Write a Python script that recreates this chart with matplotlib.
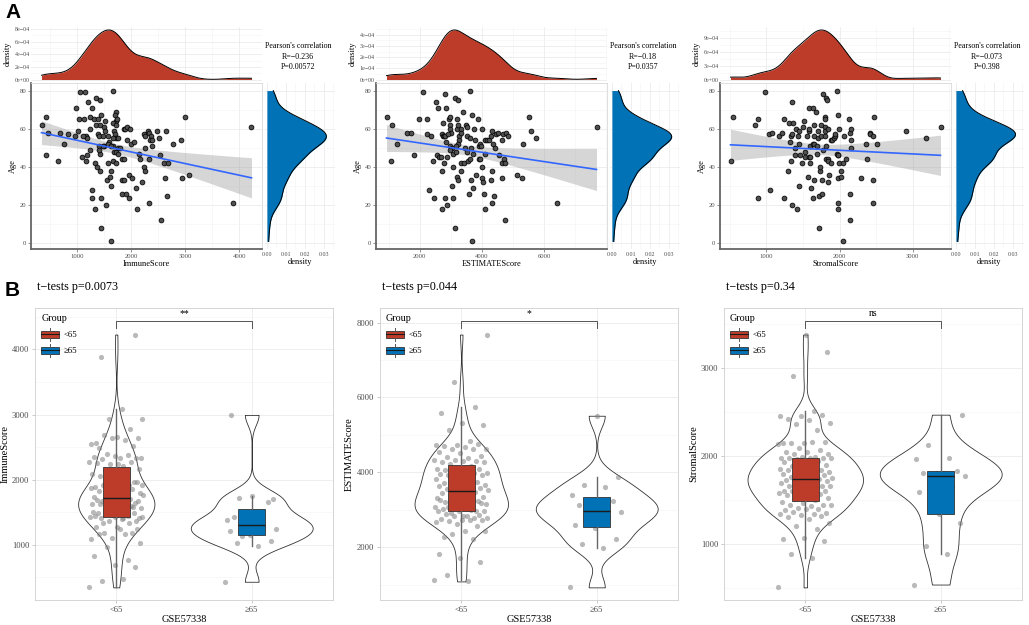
import numpy as np
import matplotlib
matplotlib.use("Agg")
import matplotlib.pyplot as plt
from matplotlib.ticker import MultipleLocator, FixedLocator, FuncFormatter, NullFormatter
from matplotlib.legend_handler import HandlerBase
from matplotlib.patches import Rectangle, Patch
from matplotlib.lines import Line2D

plt.rcParams['font.family'] = ['Liberation Serif', 'DejaVu Serif']

RED = '#BC3C29'
BLUE = '#0072B5'
W, H = 1029, 625

# ---- data (score, age per sample) ----
immune_score = [346, 432, 475, 438, 654, 691, 827, 765, 975, 963,
                1031, 1025, 1056, 1154, 1204, 1278, 1136, 1235, 1352, 1426,
                1660, 1309, 1247, 1173, 1185, 1111, 1093, 1167, 1185, 1247,
                1272, 1272, 1340, 1383, 1358, 1451, 1420, 1395, 1414, 1488,
                1525, 1506, 1519, 1580, 1407, 1506, 1488, 1593, 1568, 1420,
                1407, 1340, 1370, 1432, 1444, 1438, 1537, 1562, 1605, 1623,
                1574, 1660, 1623, 1630, 1716, 1698, 1716, 1673, 1728, 1747,
                1685, 1698, 1728, 1759, 1667, 1673, 1636, 1691, 1728, 1765,
                1759, 1802, 1722, 1833, 1864, 1827, 1877, 1840, 1914, 1969,
                1864, 1889, 1920, 1988, 1920, 2006, 2062, 1957, 2019, 2086,
                2117, 2142, 2167, 2235, 2259, 2265, 2247, 2265, 2210, 2315,
                2340, 2364, 2352, 2383, 2395, 2327, 2327, 2481, 2519, 2642,
                2543, 2605, 2691, 2636, 2660, 2562, 2784, 2926, 2994, 2938,
                3080, 3889, 4228]
immune_age = [62, 66, 58, 46, 43, 58, 57, 52, 71, 56,
              65, 59, 79, 79, 74, 71, 65, 66, 76, 75,
              80, 65, 60, 56, 55, 56, 45, 43, 46, 49,
              28, 24, 18, 65, 62, 67, 62, 57, 56, 56,
              64, 61, 59, 56, 51, 51, 51, 53, 52, 47,
              49, 42, 40, 38, 24, 8, 20, 33, 35, 38,
              42, 43, 30, 1, 69, 67, 64, 63, 62, 65,
              59, 57, 55, 55, 55, 51, 51, 48, 48, 47,
              50, 50, 42, 44, 44, 33, 33, 26, 26, 24,
              60, 60, 61, 60, 54, 52, 53, 36, 34, 29,
              18, 47, 44, 57, 56, 50, 40, 38, 32, 59,
              58, 56, 54, 54, 51, 44, 21, 59, 55, 59,
              46, 42, 42, 34, 25, 12, 52, 54, 66, 34,
              36, 21, 61]

estimate_score = [930, 1122, 1089, 1252, 1599, 1707, 1827, 1979, 2098, 2217,
                  2228, 2347, 2423, 2445, 2282, 2520, 2596, 2564, 2629, 2683,
                  2716, 2705, 2737, 2726, 2748, 2781, 2824, 2792, 2802, 2846,
                  2824, 2878, 2867, 2943, 2976, 2987, 2965, 2998, 2922, 2965,
                  2846, 3030, 2976, 3052, 3073, 3030, 3063, 3127, 3236, 3192,
                  3181, 3214, 3257, 3257, 3225, 3149, 3160, 3203, 3225, 3138,
                  3312, 3333, 3388, 3312, 3333, 3420, 3442, 3474, 3507, 3518,
                  3507, 3550, 3594, 3615, 3604, 3637, 3626, 3637, 3669, 3669,
                  3713, 3713, 3745, 3789, 3821, 3875, 3897, 3919, 3941, 3930,
                  3962, 3995, 4006, 3984, 4038, 4071, 4082, 4092, 4103, 4168,
                  4222, 4287, 4309, 4276, 4309, 4320, 4341, 4374, 4417, 4439,
                  4504, 4537, 4634, 4634, 4634, 4667, 4700, 4764, 4743, 4743,
                  4851, 5133, 5274, 5328, 5512, 5588, 5751, 6401, 7680]
estimate_age = [66, 62, 43, 52, 58, 58, 46, 65, 79, 57,
                65, 56, 43, 24, 28, 74, 71, 46, 45, 45,
                18, 38, 63, 57, 56, 56, 56, 42, 78, 71,
                24, 20, 45, 65, 62, 66, 60, 58, 57, 51,
                53, 50, 49, 47, 40, 30, 24, 76, 75, 65,
                60, 62, 56, 54, 52, 51, 48, 35, 33, 8,
                60, 58, 69, 42, 38, 42, 50, 62, 61, 56,
                48, 43, 26, 80, 55, 50, 44, 33, 67, 1,
                29, 47, 60, 54, 36, 65, 51, 44, 44, 52,
                51, 40, 60, 34, 32, 26, 47, 18, 54, 54,
                54, 56, 59, 33, 38, 21, 52, 25, 50, 57,
                58, 46, 54, 42, 34, 57, 44, 58, 42, 12,
                56, 36, 34, 52, 66, 59, 55, 21, 61]

stromal_score = [511, 543, 845, 890, 890, 982, 1041, 1073, 1055, 1178,
                 1210, 1242, 1242, 1292, 1311, 1320, 1333, 1347, 1347, 1338,
                 1370, 1356, 1402, 1393, 1397, 1416, 1443, 1438, 1443, 1443,
                 1466, 1484, 1498, 1516, 1530, 1530, 1562, 1566, 1589, 1589,
                 1580, 1584, 1603, 1603, 1594, 1607, 1635, 1644, 1648, 1658,
                 1644, 1658, 1658, 1680, 1694, 1694, 1712, 1712, 1717, 1721,
                 1730, 1735, 1749, 1749, 1767, 1767, 1776, 1781, 1795, 1795,
                 1804, 1808, 1813, 1826, 1808, 1817, 1817, 1840, 1840, 1845,
                 1849, 1854, 1881, 1886, 1895, 1918, 1936, 1941, 1968, 1968,
                 1973, 1977, 1977, 1977, 1982, 1986, 1982, 1995, 2023, 2023,
                 2041, 2050, 2064, 2091, 2123, 2137, 2155, 2151, 2160, 2146,
                 2146, 2297, 2365, 2379, 2411, 2420, 2461, 2470, 2452, 2457,
                 2507, 2904, 3183, 3379]
stromal_age = [43, 66, 62, 65, 24, 79, 57, 58, 28, 56,
               58, 24, 65, 38, 63, 53, 56, 74, 20, 43,
               63, 57, 60, 50, 46, 18, 30, 56, 59, 52,
               46, 42, 61, 64, 45, 48, 56, 35, 45, 71,
               59, 60, 51, 45, 42, 29, 24, 71, 62, 56,
               52, 52, 33, 69, 51, 47, 55, 59, 25, 8,
               38, 40, 62, 56, 26, 33, 78, 49, 56, 61,
               66, 59, 76, 75, 65, 44, 51, 44, 43, 60,
               32, 36, 54, 42, 54, 55, 56, 57, 80, 47,
               46, 21, 18, 34, 67, 60, 46, 42, 38, 35,
               1, 42, 56, 44, 65, 58, 60, 54, 50, 26,
               12, 34, 52, 44, 58, 57, 56, 66, 33, 21,
               52, 59, 55, 61]

score_names = ['ImmuneScore', 'ESTIMATEScore', 'StromalScore']
r_labels = ['R=\u22120.236', 'R=\u22120.18', 'R=\u22120.073']
p_labels = ['P=0.00572', 'P=0.0357', 'P=0.398']
ttest_labels = ['t\u2212tests p=0.0073', 't\u2212tests p=0.044', 't\u2212tests p=0.34']
sig_labels = ['**', '*', 'ns']
group_labels = ['<65', '\u226565']
age_cut = 65

scores = [immune_score, estimate_score, stromal_score]
ages = [immune_age, estimate_age, stromal_age]
top_xstep = [1000, 2000, 1000]
dens_step = [2e-4, 1e-4, 3e-4]
violin_step = [1000, 2000, 1000]


def fbox(x, y, w, h):
    return [x / W, 1 - (y + h) / H, w / W, h / H]


def nrd0(v):
    v = np.asarray(v, float)
    sd = v.std(ddof=1)
    iqr = np.subtract(*np.percentile(v, [75, 25]))
    return 0.9 * min(sd, iqr / 1.34) * len(v) ** -0.2


def kde(v, grid):
    v = np.asarray(v, float)
    bw = nrd0(v)
    z = (grid[:, None] - v[None, :]) / bw
    return np.exp(-0.5 * z ** 2).sum(1) / (len(v) * bw * np.sqrt(2 * np.pi))


def sci(v, pos):
    return f"{v:.0e}".replace('-', '\u2212')


class BoxHandler(HandlerBase):
    def create_artists(self, legend, orig_handle, xdescent, ydescent,
                       width, height, fontsize, trans):
        x0, y0 = -xdescent, -ydescent
        cx = x0 + width / 2
        rect = Rectangle((x0, y0 + 0.05 * height), width, 0.9 * height,
                         facecolor=orig_handle.get_facecolor(),
                         edgecolor='#333333', lw=0.6, transform=trans)
        med = Line2D([x0, x0 + width], [y0 + height / 2] * 2,
                     color='#1a1a1a', lw=0.8, transform=trans)
        w1 = Line2D([cx, cx], [y0 - 0.25 * height, y0 + 0.05 * height],
                    color='#555555', lw=0.7, transform=trans)
        w2 = Line2D([cx, cx], [y0 + 0.95 * height, y0 + 1.25 * height],
                    color='#555555', lw=0.7, transform=trans)
        return [rect, med, w1, w2]


def light_axes(ax, spine_color='#D9D9D9'):
    ax.set_axisbelow(True)
    ax.grid(which='major', color='#EBEBEB', lw=0.6)
    ax.grid(which='minor', color='#F4F4F4', lw=0.4)
    for s in ax.spines.values():
        s.set_color(spine_color)
        s.set_linewidth(0.6)
    ax.tick_params(which='minor', length=0)


fig = plt.figure(figsize=(W / 100, H / 100), dpi=100)

# ---------------- row A ----------------
top_off = [0, 345, 689]
for i in range(3):
    ox = top_off[i]
    x = np.asarray(scores[i], float)
    y = np.asarray(ages[i], float)
    xlo, xhi = x.min(), x.max()
    ylo, yhi = y.min(), y.max()
    xlim = (xlo - 0.05 * (xhi - xlo), xhi + 0.05 * (xhi - xlo))
    ylim = (ylo - 0.05 * (yhi - ylo), yhi + 0.05 * (yhi - ylo))
    xmajor = FixedLocator(np.arange(top_xstep[i], xhi, top_xstep[i]))

    ax_sc = fig.add_axes(fbox(ox + 31, 83, 231, 166))
    ax_top = fig.add_axes(fbox(ox + 31, 27, 231, 54))
    ax_rt = fig.add_axes(fbox(ox + 265, 83, 70, 166))

    # scatter + lm fit with 95% band
    coef = np.polyfit(x, y, 1)
    xs = np.linspace(xlo, xhi, 100)
    fit = np.polyval(coef, xs)
    resid = y - np.polyval(coef, x)
    n = len(x)
    s = np.sqrt((resid ** 2).sum() / (n - 2))
    se = s * np.sqrt(1 / n + (xs - x.mean()) ** 2 / ((x - x.mean()) ** 2).sum())
    ax_sc.fill_between(xs, fit - 1.98 * se, fit + 1.98 * se,
                       color='#999999', alpha=0.4, lw=0, zorder=2)
    ax_sc.scatter(x, y, s=12, c='#505050', edgecolors='black',
                  linewidths=0.55, zorder=3)
    ax_sc.plot(xs, fit, color='#3366FF', lw=1.2, zorder=4)
    ax_sc.set_xlim(xlim)
    ax_sc.set_ylim(ylim)
    ax_sc.xaxis.set_major_locator(xmajor)
    ax_sc.xaxis.set_minor_locator(MultipleLocator(top_xstep[i] / 2))
    ax_sc.yaxis.set_major_locator(MultipleLocator(20))
    ax_sc.yaxis.set_minor_locator(MultipleLocator(10))
    light_axes(ax_sc)
    ax_sc.spines['left'].set_color('#666666')
    ax_sc.spines['bottom'].set_color('#666666')
    ax_sc.spines['left'].set_linewidth(1.3)
    ax_sc.spines['bottom'].set_linewidth(1.3)
    ax_sc.tick_params(which='major', length=2, width=0.5, color='#666666',
                      labelsize=4.8, labelcolor='#4D4D4D', pad=1.5)
    ax_sc.set_xlabel(score_names[i], fontsize=6, labelpad=1)
    ax_sc.set_ylabel('Age', fontsize=6, labelpad=2)

    # top marginal density
    gx = np.linspace(xlo, xhi, 512)
    dx = kde(x, gx)
    ax_top.fill_between(gx, 0, dx, color=RED, lw=0)
    ax_top.plot(gx, dx, color='black', lw=0.7)
    ax_top.set_xlim(xlim)
    ax_top.set_ylim(-0.03 * dx.max(), dx.max() * 1.06)
    ax_top.xaxis.set_major_locator(xmajor)
    ax_top.xaxis.set_minor_locator(MultipleLocator(top_xstep[i] / 2))
    ax_top.yaxis.set_major_locator(MultipleLocator(dens_step[i]))
    ax_top.yaxis.set_minor_locator(MultipleLocator(dens_step[i] / 2))
    ax_top.yaxis.set_major_formatter(FuncFormatter(sci))
    ax_top.xaxis.set_major_formatter(NullFormatter())
    light_axes(ax_top)
    for sp in ax_top.spines.values():
        sp.set_visible(False)
    ax_top.tick_params(which='major', length=0, labelsize=4.3,
                       labelcolor='#4D4D4D', pad=1)
    ax_top.set_ylabel('density', fontsize=6, labelpad=2)

    # right marginal density
    gy = np.linspace(ylo, yhi, 512)
    dy = kde(y, gy)
    ax_rt.fill_betweenx(gy, 0, dy, color=BLUE, lw=0)
    ax_rt.plot(dy, gy, color='black', lw=0.7)
    ax_rt.set_ylim(ylim)
    ax_rt.set_xlim(-0.001, max(0.0358, dy.max() * 1.05))
    ax_rt.xaxis.set_major_locator(MultipleLocator(0.01))
    ax_rt.xaxis.set_minor_locator(MultipleLocator(0.005))
    ax_rt.yaxis.set_major_locator(MultipleLocator(20))
    ax_rt.yaxis.set_minor_locator(MultipleLocator(10))
    ax_rt.xaxis.set_major_formatter(FuncFormatter(lambda v, p: f"{v:.2f}"))
    ax_rt.yaxis.set_major_formatter(NullFormatter())
    light_axes(ax_rt)
    for sp in ax_rt.spines.values():
        sp.set_visible(False)
    ax_rt.tick_params(which='major', length=0, labelsize=4.3,
                      labelcolor='#4D4D4D', pad=2)
    ax_rt.set_xlabel('density', fontsize=6, labelpad=1)

    # correlation annotation
    fig.text((ox + 298) / W, 1 - 46 / H, "Pearson's correlation",
             ha='center', va='center', fontsize=5.8)
    fig.text((ox + 298) / W, 1 - 57 / H, r_labels[i],
             ha='center', va='center', fontsize=5.8)
    fig.text((ox + 298) / W, 1 - 67 / H, p_labels[i],
             ha='center', va='center', fontsize=5.8)

# ---------------- row B ----------------
bot_off = [35, 380, 724]
for i in range(3):
    bx = bot_off[i]
    v = np.asarray(scores[i], float)
    a = np.asarray(ages[i], float)
    groups = [v[a < age_cut], v[a >= age_cut]]
    ax = fig.add_axes(fbox(bx, 308, 298, 292))

    # violins (area scaled, trimmed to data range)
    grids, dens = [], []
    for g in groups:
        gg = np.linspace(g.min(), g.max(), 512)
        grids.append(gg)
        dens.append(kde(g, gg))
    dmax = max(d.max() for d in dens)
    for k, (gg, d) in enumerate(zip(grids, dens)):
        w = d / dmax * 0.45
        ax.fill_betweenx(gg, k + 1 - w, k + 1 + w, facecolor='white',
                         edgecolor='#333333', lw=0.6, zorder=1)

    # jittered points
    for k, g in enumerate(groups):
        jit = ((np.arange(len(g)) * 0.618034) % 1.0 - 0.5) * 0.4
        ax.scatter(k + 1 + jit, g, s=14, c='#808080', alpha=0.55,
                   lw=0, zorder=2)

    bp = ax.boxplot(groups, positions=[1, 2], widths=0.2, patch_artist=True,
                    showfliers=False, showcaps=False, zorder=3,
                    medianprops=dict(color='#1a1a1a', lw=1.0),
                    whiskerprops=dict(color='#666666', lw=1.0),
                    boxprops=dict(edgecolor='#333333', lw=0.6))
    for patch, col in zip(bp['boxes'], [RED, BLUE]):
        patch.set_facecolor(col)

    lo, hi = v.min(), v.max()
    r = hi - lo
    ybr = hi + 0.052 * r
    ax.plot([1, 1, 2, 2], [ybr - 0.028 * r, ybr, ybr, ybr - 0.028 * r],
            color='#555555', lw=0.7, zorder=4)
    ax.text(1.5, ybr + 0.012 * r, sig_labels[i], ha='center', va='bottom',
            fontsize=7)
    ax.set_ylim(lo - 0.05 * r, hi + 0.105 * r)
    ax.set_xlim(0.4, 2.6)
    ax.set_xticks([1, 2])
    ax.set_xticklabels(group_labels)
    ax.yaxis.set_major_locator(MultipleLocator(violin_step[i]))
    ax.yaxis.set_minor_locator(MultipleLocator(violin_step[i] / 2))
    light_axes(ax, spine_color='#CFCFCF')
    ax.tick_params(which='major', length=2, width=0.5, color='#B3B3B3',
                   labelsize=6.2, labelcolor='#4D4D4D', pad=2)
    ax.set_xlabel('GSE57338', fontsize=7.5, labelpad=1)
    ax.set_ylabel(score_names[i], fontsize=7.5, labelpad=2)

    handles = [Patch(facecolor=RED), Patch(facecolor=BLUE)]
    ax.legend(handles, group_labels, title='Group', loc='upper left',
              frameon=False, fontsize=6.3, title_fontsize=7.3,
              handler_map={Patch: BoxHandler()}, handlelength=2.0,
              handleheight=1.1, labelspacing=0.8, borderaxespad=0.3,
              alignment='left', handletextpad=0.6)

    fig.text((bx + 2) / W, 1 - 287 / H, ttest_labels[i], ha='left',
             va='center', fontsize=8.7)

fig.text(5 / W, 1 - 12.5 / H, 'A', fontsize=15, fontweight='bold',
         family=['Liberation Sans', 'DejaVu Sans'], ha='left', va='center')
fig.text(5 / W, 1 - 290 / H, 'B', fontsize=15, fontweight='bold',
         family=['Liberation Sans', 'DejaVu Sans'], ha='left', va='center')

fig.savefig('out.png', dpi=100)
